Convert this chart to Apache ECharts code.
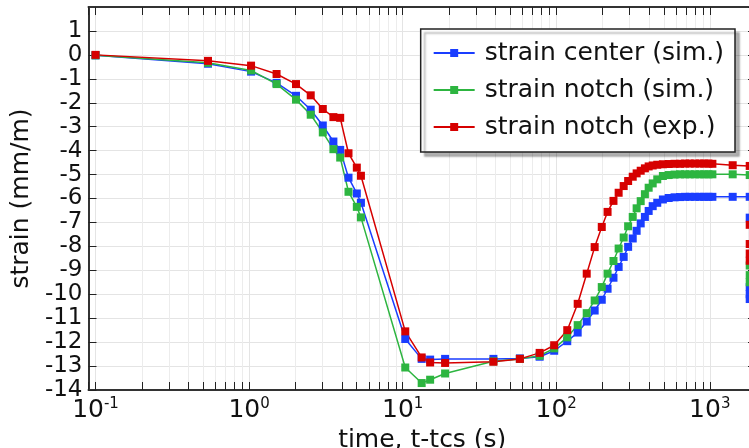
<!DOCTYPE html>
<html lang="en">
<head>
<meta charset="UTF-8">
<script src="https://cdn.jsdelivr.net/npm/echarts@6/dist/echarts.min.js"></script>
<style>
    * { margin: 0; padding: 0; }
    #chart { width: 749px; height: 448px; background: #fff; }
</style>
</head>
<body>
<div id="chart"></div>
<script>
    // time points (s), shared by the three curves
    var timeMain = [0.1, 0.54, 1.03, 1.51, 2.02, 2.52, 3.02, 3.54, 3.92, 4.44, 5.03, 5.35,
        10.4, 13.3, 15.1, 18.9, 39, 58, 78, 97, 118, 138, 158, 178, 198, 216, 236, 255,
        275, 294, 315, 334, 355, 378, 400, 425, 455, 495, 540, 590, 640, 690, 740, 800,
        860, 920, 980, 1040, 1410];

    var strainCenterSim = [-0.02, -0.37, -0.70, -1.17, -1.71, -2.29, -2.95, -3.62, -3.97, -5.13, -5.79, -6.18,
        -11.87, -12.70, -12.73, -12.70, -12.70, -12.68, -12.61, -12.36, -11.96, -11.60, -11.14, -10.68, -10.23, -9.77, -9.31, -8.86,
        -8.44, -8.02, -7.67, -7.35, -7.04, -6.77, -6.52, -6.32, -6.18, -6.04, -5.98, -5.95, -5.94, -5.93, -5.93, -5.93,
        -5.93, -5.93, -5.93, -5.93, -5.93];

    var strainNotchSim = [-0.02, -0.33, -0.65, -1.22, -1.87, -2.50, -3.24, -3.94, -4.29, -5.72, -6.35, -6.79,
        -13.06, -13.71, -13.57, -13.31, -12.80, -12.70, -12.57, -12.26, -11.80, -11.29, -10.79, -10.26, -9.70, -9.14, -8.61, -8.09,
        -7.63, -7.16, -6.77, -6.41, -6.11, -5.82, -5.55, -5.37, -5.20, -5.06, -5.02, -5.00, -4.99, -4.99, -4.99, -4.99,
        -4.99, -4.99, -4.99, -4.99, -4.99];

    var strainNotchExp = [0, -0.25, -0.45, -0.80, -1.22, -1.69, -2.26, -2.60, -2.63, -4.11, -4.71, -5.05,
        -11.55, -12.64, -12.85, -12.87, -12.82, -12.70, -12.45, -12.13, -11.50, -10.40, -9.14, -8.03, -7.19, -6.56, -6.10, -5.76,
        -5.48, -5.27, -5.09, -4.95, -4.84, -4.74, -4.66, -4.62, -4.59, -4.57, -4.56, -4.55, -4.55, -4.54, -4.54, -4.54,
        -4.54, -4.54, -4.54, -4.55, -4.61];

    // last points, at the right border of the plot (drop)
    var timeEdge = 1820;
    var edgeCenterSim = [-5.93, -6.8, -9.7, -10.0, -10.2];
    var edgeNotchSim = [-5.02, -8.8, -9.2, -9.5];
    var edgeNotchExp = [-4.64, -7.1, -7.9, -8.3, -8.6];

    var seriesNames = ['strain center (sim.)', 'strain notch (sim.)', 'strain notch (exp.)'];
    var seriesColors = ['#1a3dff', '#2db540', '#d60000'];

    var xMin = 0.09, xMax = 2000;
    var yMin = -14, yMax = 2;

    // minor log ticks 2..9 of each decade
    var decades = [0.1, 1, 10, 100, 1000];
    var minorSteps = [2, 3, 4, 5, 6, 7, 8, 9];
    var minorTicks = [];
    decades.forEach(function (d) {
        minorSteps.forEach(function (m) {
            var v = d * m;
            if (v < xMax) minorTicks.push([v, yMin]);
        });
    });

    function pairs(vals, edge) {
        var out = timeMain.map(function (t, i) { return [t, vals[i]]; });
        edge.forEach(function (v) { out.push([timeEdge, v]); });
        return out;
    }

    function fmtPow(v) {
        var lg = Math.log10(v);
        var e = Math.round(lg);
        if (Math.abs(lg - e) > 1e-6) return '';
        return '{b|10}{s|' + e + '}';
    }

    function renderMinor(params, api) {
        var x = api.value(0);
        var top = api.coord([x, yMax]);
        var bot = api.coord([x, yMin]);
        var px = Math.round(top[0]) + 0.5;
        return {
            type: 'group',
            children: [
                {type: 'line', shape: {x1: px, y1: top[1], x2: px, y2: bot[1]},
                    style: {stroke: '#ececec', lineWidth: 1}},
                {type: 'line', shape: {x1: px, y1: bot[1], x2: px, y2: bot[1] - 8},
                    style: {stroke: '#222', lineWidth: 1}},
                {type: 'line', shape: {x1: px, y1: top[1], x2: px, y2: top[1] + 8},
                    style: {stroke: '#222', lineWidth: 1}}
            ]
        };
    }

    var myChart = echarts.init(document.getElementById('chart'));

    var lineSeries = [
        pairs(strainCenterSim, edgeCenterSim),
        pairs(strainNotchSim, edgeNotchSim),
        pairs(strainNotchExp, edgeNotchExp)
    ].map(function (d, i) {
        return {
            name: seriesNames[i],
            type: 'line',
            data: d,
            symbol: 'rect',
            symbolSize: 8,
            lineStyle: {width: 1.5, color: seriesColors[i]},
            itemStyle: {color: seriesColors[i]},
            z: 3
        };
    });

    var option = {
        animation: false,
        textStyle: {fontFamily: 'DejaVu Sans'},
        grid: {left: 88.5, right: -7, top: 7, bottom: 58, outerBoundsMode: 'none', containLabel: false},
        legend: {
            data: seriesNames,
            orient: 'vertical',
            right: 14,
            top: 29,
            itemWidth: 41,
            itemHeight: 10,
            itemGap: 11,
            padding: [11, 11, 12, 12],
            backgroundColor: '#fff',
            borderColor: '#222',
            borderWidth: 1.5,
            borderRadius: 0,
            shadowColor: 'rgba(0,0,0,0.3)',
            shadowOffsetX: 4,
            shadowOffsetY: 4,
            shadowBlur: 2,
            selectedMode: false,
            textStyle: {fontSize: 25, color: '#111', lineHeight: 26, padding: [0, 0, 0, 5], fontFamily: 'DejaVu Sans'}
        },
        xAxis: [{
            type: 'log',
            logBase: 10,
            min: xMin,
            max: xMax,
            position: 'bottom',
            axisLine: {onZero: false, lineStyle: {color: '#333', width: 2}},
            axisTick: {inside: true, length: 8, lineStyle: {color: '#222'}},
            splitLine: {show: true, lineStyle: {color: '#e4e4e4'}},
            axisLabel: {
                margin: 7,
                color: '#111',
                formatter: fmtPow,
                rich: {
                    b: {fontSize: 25, color: '#111', fontFamily: 'DejaVu Sans', lineHeight: 27},
                    s: {fontSize: 15, color: '#111', fontFamily: 'DejaVu Sans', verticalAlign: 'top', lineHeight: 15}
                }
            },
            name: 'time, t-tcs (s)',
            nameLocation: 'middle',
            nameGap: 32,
            nameTextStyle: {fontSize: 25, color: '#111'}
        }, {
            type: 'log',
            logBase: 10,
            min: xMin,
            max: xMax,
            position: 'top',
            axisLine: {onZero: false, lineStyle: {color: '#333', width: 2}},
            axisTick: {inside: true, length: 8, lineStyle: {color: '#222'}},
            axisLabel: {show: false},
            splitLine: {show: false}
        }],
        yAxis: [{
            type: 'value',
            min: yMin,
            max: yMax,
            interval: 1,
            axisLine: {show: true, onZero: false, lineStyle: {color: '#333', width: 2}},
            axisTick: {show: true, inside: true, length: 8, lineStyle: {color: '#222'}},
            splitLine: {show: true, lineStyle: {color: '#e4e4e4'}},
            axisLabel: {margin: 6, fontSize: 23, color: '#111', showMaxLabel: false},
            name: 'strain (mm/m)',
            nameLocation: 'middle',
            nameGap: 44,
            nameTextStyle: {fontSize: 25, color: '#111'}
        }, {
            type: 'value',
            min: yMin,
            max: yMax,
            interval: 1,
            position: 'right',
            axisLine: {show: true, onZero: false, lineStyle: {color: '#333', width: 2}},
            axisTick: {show: true, inside: true, length: 8, lineStyle: {color: '#222'}},
            axisLabel: {show: false},
            splitLine: {show: false}
        }],
        series: [{
            type: 'custom',
            name: 'minor',
            xAxisIndex: 0,
            yAxisIndex: 0,
            data: minorTicks,
            renderItem: renderMinor,
            clip: false,
            silent: true,
            z: 1
        }].concat(lineSeries)
    };

    myChart.setOption(option);
</script>
</body>
</html>
